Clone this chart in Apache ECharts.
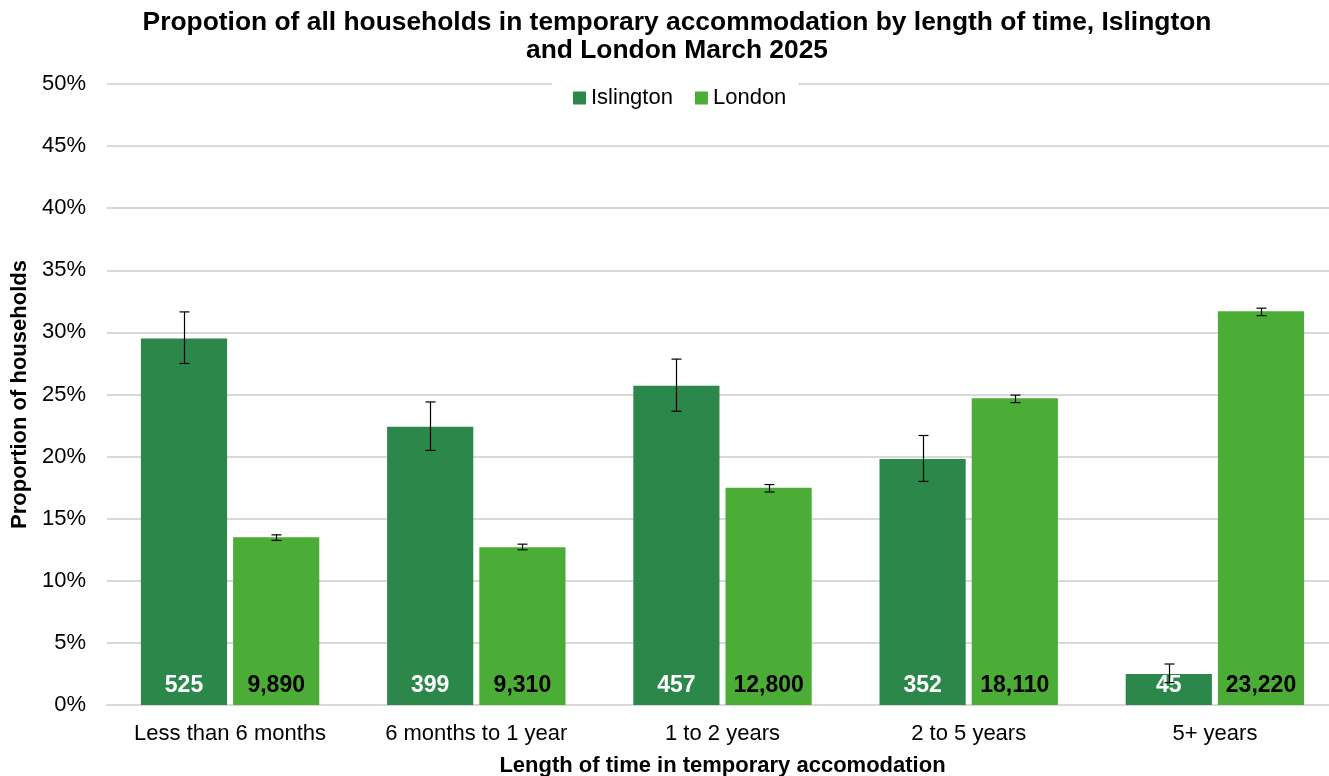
<!DOCTYPE html>
<html>
<head>
<meta charset="utf-8">
<script src="https://cdn.jsdelivr.net/npm/echarts@6/dist/echarts.min.js"></script>
<style>
  html, body { margin: 0; padding: 0; background: #fff; overflow: hidden; }
  #chart { width: 1329px; height: 776px; }
</style>
</head>
<body>
<div id="chart"></div>
<script>
const categories = ['Less than 6 months', '6 months to 1 year', '1 to 2 years', '2 to 5 years', '5+ years'];
const islingtonPct = [29.5, 22.4, 25.7, 19.8, 2.5];
const londonPct = [13.5, 12.7, 17.5, 24.7, 31.7];
const islingtonCount = ['525', '399', '457', '352', '45'];
const londonCount = ['9,890', '9,310', '12,800', '18,110', '23,220'];
// confidence intervals [low, high]
const islingtonCI = [[27.5, 31.65], [20.5, 24.4], [23.65, 27.85], [18.0, 21.7], [1.8, 3.3]];
const londonCI = [[13.25, 13.7], [12.5, 12.95], [17.15, 17.75], [24.35, 24.95], [31.35, 31.95]];

const DARK = '#2b884a';
const LIGHT = '#4bad35';
const FONT = '"Liberation Sans", Arial, sans-serif';

const myChart = echarts.init(document.getElementById('chart'));

// error bar drawn next to the bar of one series (side -1 = first, +1 = second)
const errorSeries = (ci, side) => ({
  type: 'custom',
  z: 10,
  silent: true,
  data: ci.map((d, i) => [i, d[0], d[1]]),
  renderItem: (params, api) => {
    const bandW = api.size([1, 0])[0];
    const off = side * bandW * 0.18725;
    const lo = api.coord([api.value(0), api.value(1)]);
    const hi = api.coord([api.value(0), api.value(2)]);
    const x = Math.round(lo[0] + off) + 0.5;
    const cap = 5;
    const style = { stroke: '#000', lineWidth: 1.2 };
    return {
      type: 'group',
      children: [
        { type: 'line', shape: { x1: x, y1: lo[1], x2: x, y2: hi[1] }, style },
        { type: 'line', shape: { x1: x - cap, y1: lo[1], x2: x + cap, y2: lo[1] }, style },
        { type: 'line', shape: { x1: x - cap, y1: hi[1], x2: x + cap, y2: hi[1] }, style },
      ],
    };
  },
});

const option = {
  animation: false,
  textStyle: { fontFamily: FONT },
  title: {
    text: 'Propotion of all households in temporary accommodation by length of time, Islington\nand London March 2025',
    left: 672,
    top: 4,
    textAlign: 'center',
    textStyle: { fontSize: 26.4, fontWeight: 'bold', color: '#000', lineHeight: 28, fontFamily: FONT },
  },
  legend: {
    data: ['Islington', 'London'],
    top: 80,
    left: 552,
    itemWidth: 13,
    itemHeight: 13,
    itemGap: 22,
    backgroundColor: '#fff',
    padding: [7, 12, 3, 21],
    textStyle: { fontSize: 22, color: '#000', fontFamily: FONT },
    icon: 'rect',
    z: 20,
  },
  grid: { left: 107, width: 1231, top: 84, bottom: 71, containLabel: false, outerBoundsMode: 'none' },
  xAxis: {
    type: 'category',
    data: categories,
    name: 'Length of time in temporary accomodation',
    nameLocation: 'middle',
    nameGap: 50,
    nameTextStyle: { fontSize: 22, fontWeight: 'bold', color: '#000', fontFamily: FONT },
    axisLine: { lineStyle: { color: '#d9d9d9', width: 2 } },
    axisTick: { show: false },
    axisLabel: { interval: 0, fontSize: 22, color: '#000', margin: 18, fontFamily: FONT },
  },
  yAxis: {
    type: 'value',
    min: 0,
    max: 50,
    interval: 5,
    name: 'Proportion of households',
    nameLocation: 'middle',
    nameGap: 74,
    nameTextStyle: { fontSize: 22, fontWeight: 'bold', color: '#000', fontFamily: FONT },
    axisLine: { show: false },
    axisTick: { show: false },
    axisLabel: { fontSize: 22, color: '#000', margin: 21, formatter: '{value}%', fontFamily: FONT },
    splitLine: { lineStyle: { color: '#d9d9d9', width: 2 } },
  },
  series: [
    {
      name: 'Islington',
      type: 'bar',
      data: islingtonPct,
      barWidth: '35%',
      barGap: '7%',
      itemStyle: { color: DARK },
      label: {
        show: true,
        position: 'insideBottom',
        distance: 8,
        color: '#fff',
        fontSize: 23,
        fontWeight: 'bold',
        fontFamily: FONT,
        formatter: (p) => islingtonCount[p.dataIndex],
      },
    },
    {
      name: 'London',
      type: 'bar',
      data: londonPct,
      barWidth: '35%',
      barGap: '7%',
      itemStyle: { color: LIGHT },
      label: {
        show: true,
        position: 'insideBottom',
        distance: 8,
        color: '#000',
        fontSize: 23,
        fontWeight: 'bold',
        fontFamily: FONT,
        formatter: (p) => londonCount[p.dataIndex],
      },
    },
    errorSeries(islingtonCI, -1),
    errorSeries(londonCI, 1),
  ],
};

myChart.setOption(option);
</script>
</body>
</html>
